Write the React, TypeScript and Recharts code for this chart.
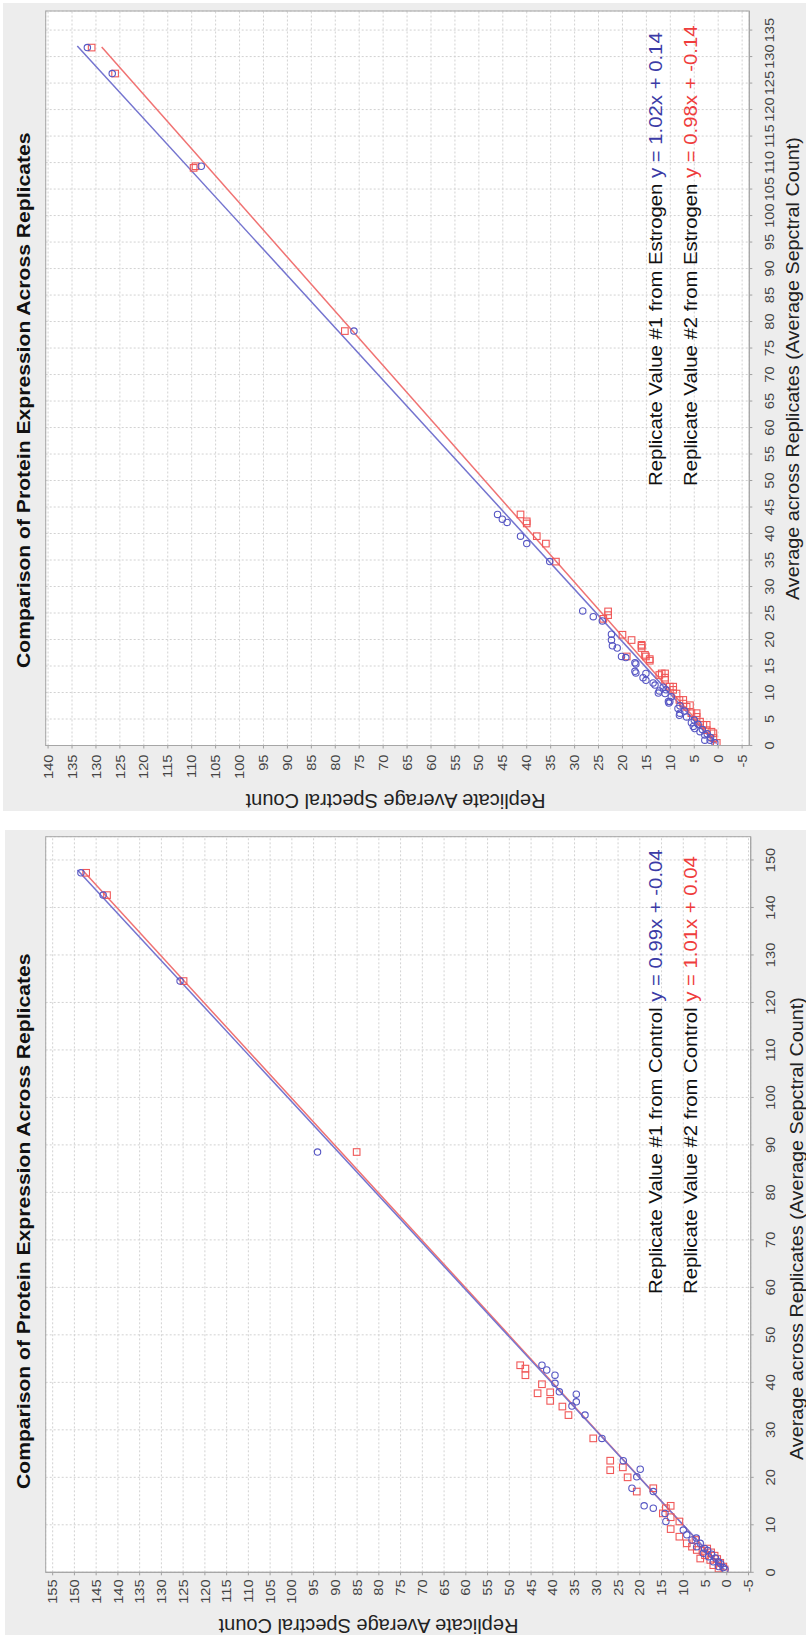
import React from "react";
import {
  ScatterChart,
  Scatter,
  XAxis,
  YAxis,
  CartesianGrid,
  ReferenceLine,
} from "recharts";

type Pt = [number, number];

// [average across replicates, replicate value]
const estrogenRep1: Pt[] = [
  [131.7, 131.8], [126.8, 126.6], [109.3, 108.0], [78.2, 76.1],
  [43.6, 46.1], [42.7, 45.1], [42.1, 44.1], [39.5, 41.3], [38.1, 40.0], [34.7, 35.2],
  [25.4, 28.3], [24.3, 26.1], [23.5, 24.2], [21.0, 22.3], [19.9, 22.3], [18.8, 22.1],
  [18.4, 21.1], [16.8, 20.2], [16.6, 19.3], [15.4, 17.2], [13.7, 17.2], [13.6, 15.1],
  [12.3, 15.1], [11.4, 13.2], [10.3, 12.3], [9.8, 11.1], [8.3, 10.4], [8.0, 10.3],
  [7.0, 8.4], [5.7, 8.1], [5.4, 6.6], [4.3, 5.6], [3.2, 4.9], [2.6, 3.8], [2.0, 2.8],
  [1.0, 1.7], [0.5, 0.7], [15.6, 17.4], [14.0, 17.4], [12.8, 15.7], [11.8, 13.6],
  [9.9, 12.5], [8.3, 10.1], [6.1, 8.0], [3.6, 5.2], [1.0, 2.8], [11.0, 11.5],
  [10.5, 10.9], [9.2, 9.8], [7.5, 8.0], [6.5, 7.0], [4.8, 5.0], [4.0, 4.2],
  [3.0, 3.3], [2.2, 2.3], [1.5, 1.6],
];
const estrogenRep2: Pt[] = [
  [131.7, 130.9], [126.8, 126.0], [109.3, 109.2], [109.0, 109.6], [78.2, 78.0],
  [43.6, 41.3], [42.3, 40.0], [41.9, 40.0], [39.5, 37.9], [38.1, 36.0], [34.7, 33.9],
  [23.9, 24.0], [25.3, 23.0], [24.6, 23.0], [20.9, 20.0], [19.9, 18.1], [16.8, 19.1],
  [18.8, 16.0], [18.4, 16.0], [16.8, 15.1], [16.3, 14.3], [16.0, 14.3], [13.3, 12.3],
  [13.6, 11.1], [12.4, 11.1], [11.1, 10.1], [10.5, 9.4], [9.8, 8.7], [8.6, 8.1],
  [7.9, 7.3], [7.3, 6.6], [6.1, 5.6], [5.4, 4.5], [4.5, 3.8], [3.9, 3.1], [2.9, 2.4],
  [2.6, 1.4], [1.4, 1.0], [0.5, 0.3], [19.0, 16.0], [17.1, 15.3], [13.6, 11.8],
  [12.8, 11.1], [11.1, 9.4], [8.6, 7.3], [7.6, 5.9], [6.1, 4.5], [3.9, 2.4], [2.3, 1.0],
];
const estrogenFit1: Pt[] = [[0.4, 0.55], [132, 133.9]];
const estrogenFit2: Pt[] = [[0.4, 0.25], [131.8, 128.8]];
const estrogenXTicks = [0, 5, 10, 15, 20, 25, 30, 35, 40, 45, 50, 55, 60, 65, 70, 75, 80, 85, 90, 95, 100, 105, 110, 115, 120, 125, 130, 135];
const estrogenYTicks = [-5, 0, 5, 10, 15, 20, 25, 30, 35, 40, 45, 50, 55, 60, 65, 70, 75, 80, 85, 90, 95, 100, 105, 110, 115, 120, 125, 130, 135, 140];

// control panel
const controlRep1: Pt[] = [
  [147.3, 148.5], [142.6, 143.4], [124.5, 125.7], [88.5, 94.1],
  [43.6, 42.5], [42.6, 41.4], [41.5, 39.5], [39.8, 39.5], [38.0, 38.5], [37.5, 34.6],
  [35.9, 34.6], [35.0, 35.6], [33.1, 32.6], [28.2, 28.7], [23.5, 23.8], [21.7, 19.9],
  [20.1, 20.7], [17.7, 21.8], [14.0, 19.0], [13.5, 16.9], [17.0, 16.9], [12.4, 14.2],
  [10.7, 14.0], [8.9, 10.0], [7.9, 9.2], [6.8, 8.0], [5.4, 6.9], [6.1, 6.1], [4.0, 5.4],
  [3.3, 4.2], [2.2, 3.1], [2.2, 1.9], [1.2, 1.9], [4.6, 4.4], [3.8, 3.5], [3.0, 2.6],
  [1.8, 1.4], [1.0, 0.8], [0.6, 0.4], [7.2, 7.0], [5.0, 5.1],
];
const controlRep2: Pt[] = [
  [147.3, 147.3], [142.6, 142.5], [124.5, 124.9], [88.5, 85.1],
  [43.6, 47.5], [42.9, 46.3], [41.5, 46.3], [39.6, 42.5], [37.7, 43.5], [37.9, 40.6],
  [36.1, 40.6], [34.9, 37.8], [33.1, 36.4], [28.2, 30.7], [23.5, 26.8], [21.5, 26.8],
  [22.1, 23.9], [20.0, 22.8], [17.0, 20.7], [17.7, 16.9], [12.4, 14.7], [13.5, 14.0],
  [14.0, 12.9], [11.6, 12.9], [9.1, 12.9], [10.7, 10.9], [7.5, 10.9], [6.1, 9.2],
  [5.4, 8.0], [4.7, 6.9], [2.9, 6.1], [3.6, 5.0], [2.6, 3.8], [1.5, 3.1], [0.8, 1.9],
  [5.0, 4.5], [4.2, 3.6], [3.5, 2.8], [2.8, 2.2], [2.0, 1.5], [1.2, 0.8], [0.6, 0.5],
  [4.5, 5.6], [6.8, 7.2],
];
const controlFit1: Pt[] = [[0.6, 0.55], [147.9, 149.3]];
const controlFit2: Pt[] = [[0.6, 0.65], [147.6, 147.9]];
const controlXTicks = [0, 10, 20, 30, 40, 50, 60, 70, 80, 90, 100, 110, 120, 130, 140, 150];
const controlYTicks = [-5, 0, 5, 10, 15, 20, 25, 30, 35, 40, 45, 50, 55, 60, 65, 70, 75, 80, 85, 90, 95, 100, 105, 110, 115, 120, 125, 130, 135, 140, 145, 150, 155];

const FONT = "'Liberation Sans', Arial, sans-serif";
const SX = 1.13; // text in the source is drawn a little wide
const BLUE = "#5757c4";
const RED = "#f05858";
const BLUE_TXT = "#3b3ba6";
const RED_TXT = "#ef3c3c";

const toObj = (pts: Pt[]) => pts.map(([x, y]) => ({ x, y }));

function XTick(props: any) {
  const { x, y, payload } = props;
  return (
    <text transform={`translate(${x},${y}) scale(${SX},1)`} textAnchor="middle" dy="0.71em"
      fontSize={13} fill="#444" fontFamily={FONT}>
      {payload.value}
    </text>
  );
}

function YTick(props: any) {
  const { x, y, payload } = props;
  return (
    <text transform={`translate(${x},${y}) scale(${SX},1)`} textAnchor="end" dy="0.355em"
      fontSize={13} fill="#444" fontFamily={FONT}>
      {payload.value}
    </text>
  );
}

const Circle = (p: any) => (
  <circle cx={p.cx} cy={p.cy} r={3.2} fill="none" stroke={BLUE} strokeWidth={1.1} />
);
const Square = (p: any) => (
  <rect x={p.cx - 3.3} y={p.cy - 3.3} width={6.6} height={6.6} fill="none" stroke={RED} strokeWidth={1.1} />
);

interface PanelProps {
  left: number; top: number; width: number; height: number;
  plotTop: number; plotRight: number; yAxisWidth: number; xAxisHeight: number;
  xDomain: [number, number]; yDomain: [number, number];
  xTicks: number[]; yTicks: number[];
  rep1: Pt[]; rep2: Pt[]; fit1: Pt[]; fit2: Pt[];
  group: string; eq1: string; eq2: string;
  titleX: number; titleY: number;
  xLabelX: number; xLabelY: number;
  yLabelX: number; yLabelY: number;
  legendX: number; legendY1: number; legendY2: number;
  xTickGap: number; yTickGap: number;
}

function Panel(p: PanelProps) {
  const plotW = p.width - p.plotRight - p.yAxisWidth;
  const plotH = p.height - p.xAxisHeight - p.plotTop;
  return (
    // drawn upright, then turned a quarter turn to the left like the source figure
    <div
      style={{
        position: "absolute",
        left: p.left,
        top: p.top + p.width,
        width: p.width,
        height: p.height,
        transformOrigin: "0 0",
        transform: "rotate(-90deg)",
        background: "#ededed",
      }}
    >
      <ScatterChart
        width={p.width}
        height={p.height}
        margin={{ top: p.plotTop, right: p.plotRight, bottom: 0, left: 0 }}
      >
        <CartesianGrid stroke="#d2d2d2" strokeDasharray="2 2" fill="#ffffff" />
        <XAxis
          type="number"
          dataKey="x"
          domain={p.xDomain}
          ticks={p.xTicks}
          interval={0}
          allowDataOverflow
          height={p.xAxisHeight}
          tickSize={3}
          tickMargin={p.xTickGap}
          axisLine={{ stroke: "#a0a0a0" }}
          tickLine={{ stroke: "#a0a0a0" }}
          tick={<XTick />}
        />
        <YAxis
          type="number"
          dataKey="y"
          domain={p.yDomain}
          ticks={p.yTicks}
          interval={0}
          allowDataOverflow
          width={p.yAxisWidth}
          tickSize={3}
          tickMargin={p.yTickGap}
          axisLine={{ stroke: "#a0a0a0" }}
          tickLine={{ stroke: "#a0a0a0" }}
          tick={<YTick />}
        />
        <Scatter data={toObj(p.rep2)} shape={Square} isAnimationActive={false} />
        <Scatter data={toObj(p.rep1)} shape={Circle} isAnimationActive={false} />
        <ReferenceLine
          segment={toObj(p.fit2)}
          stroke="#f07272"
          strokeWidth={1.5}
        />
        <ReferenceLine
          segment={toObj(p.fit1)}
          stroke="#7474cf"
          strokeWidth={1.5}
        />
      </ScatterChart>

      <svg
        width={p.width}
        height={p.height}
        style={{ position: "absolute", left: 0, top: 0, pointerEvents: "none" }}
        fontFamily={FONT}
      >
        <rect x={p.yAxisWidth} y={p.plotTop} width={plotW} height={plotH} fill="none" stroke="#a6a6a6" />
        <text transform={`translate(${p.titleX},${p.titleY}) scale(${SX},1)`} fontSize={18.7} fontWeight="bold" fill="#111">
          Comparison of Protein Expression Across Replicates
        </text>
        <text transform={`translate(${p.xLabelX},${p.xLabelY}) scale(${SX},1)`} fontSize={17.5} fill="#222">
          Average across Replicates (Average Sepctral Count)
        </text>
        <text transform={`translate(${p.yLabelX},${p.yLabelY}) rotate(-90)`} textAnchor="middle" fontSize={20} fill="#222">
          Replicate Average Spectral Count
        </text>
        <text transform={`translate(${p.legendX},${p.legendY1}) scale(${SX},1)`} fontSize={18} fill="#111">
          {`Replicate Value #1 from ${p.group} `}
          <tspan fill={BLUE_TXT}>{p.eq1}</tspan>
        </text>
        <text transform={`translate(${p.legendX},${p.legendY2}) scale(${SX},1)`} fontSize={18} fill="#111">
          {`Replicate Value #2 from ${p.group} `}
          <tspan fill={RED_TXT}>{p.eq2}</tspan>
        </text>
      </svg>
    </div>
  );
}

export default function App() {
  return (
    <div style={{ position: "absolute", left: 0, top: 0, width: 806, height: 1635, background: "#fff", overflow: "hidden" }}>
      <Panel
        left={3} top={3} width={808} height={803}
        plotTop={42.7} plotRight={8} yAxisWidth={65.5} xAxisHeight={56.7}
        xDomain={[0, 138.6]} yDomain={[-6.5, 140.5]}
        xTicks={estrogenXTicks} yTicks={estrogenYTicks}
        rep1={estrogenRep1} rep2={estrogenRep2} fit1={estrogenFit1} fit2={estrogenFit2}
        group="Estrogen" eq1="y = 1.02x + 0.14" eq2="y = 0.98x + -0.14"
        titleX={143} titleY={26.5}
        xLabelX={211} xLabelY={796}
        yLabelX={17.5} yLabelY={392.5}
        legendX={325} legendY1={658.7} legendY2={693.7}
        xTickGap={12} yTickGap={6}
      />
      <Panel
        left={5} top={830} width={805} height={801}
        plotTop={40.7} plotRight={6.7} yAxisWidth={62.7} xAxisHeight={55.3}
        xDomain={[0, 154.9]} yDomain={[-5.5, 156.6]}
        xTicks={controlXTicks} yTicks={controlYTicks}
        rep1={controlRep1} rep2={controlRep2} fit1={controlFit1} fit2={controlFit2}
        group="Control" eq1="y = 0.99x + -0.04" eq2="y = 1.01x + 0.04"
        titleX={146} titleY={24.5}
        xLabelX={175} xLabelY={797.5}
        yLabelX={15.7} yLabelY={363.5}
        legendX={341} legendY1={656.7} legendY2={691.7}
        xTickGap={12} yTickGap={4}
      />
    </div>
  );
}
